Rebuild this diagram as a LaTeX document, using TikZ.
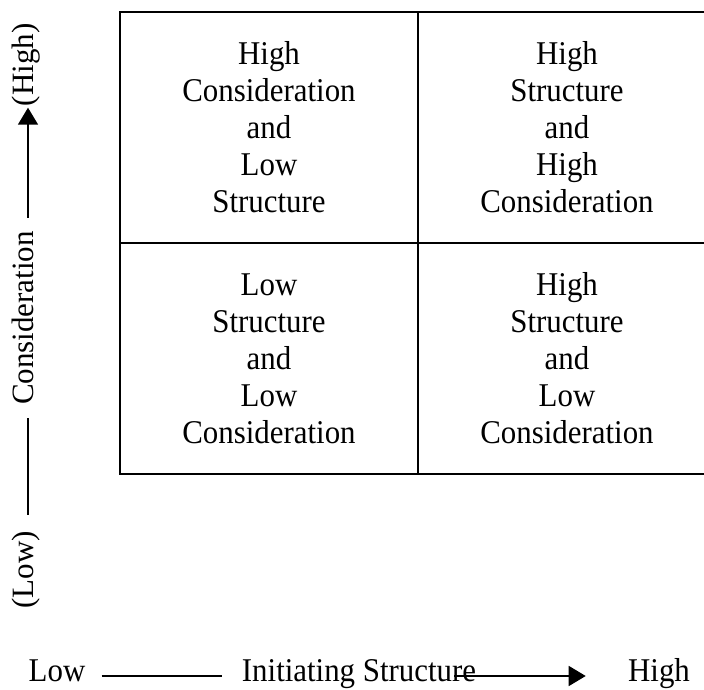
\documentclass[tikz,border=0pt]{standalone}
\usepackage{fontspec}
\setmainfont{Liberation Serif}
\newfontfamily\tallfont[FakeStretch=0.93]{Liberation Serif}
\usetikzlibrary{arrows.meta}
\begin{document}
\begin{tikzpicture}[x=0.5pt,y=-0.5pt,
  cell/.style={draw,line width=1pt,minimum width=149pt,minimum height=115.5pt,align=center,font=\tallfont\fontsize{16.6}{18.5}\selectfont},
  axislabel/.style={inner sep=0pt,text height=0.72em,text depth=0.22em,font=\fontsize{15.5}{18.5}\selectfont},
  xlabel/.style={axislabel,font=\tallfont\fontsize{16.6}{18.5}\selectfont},
  axisline/.style={line width=0.75pt},
  tip/.style={-{Triangle[length=8.5pt,width=10pt]}}]
\path[use as bounding box,clip] (0,0) rectangle (704,689);

\node[cell] (hcls) at (269,127.5) {High\\Consideration\\and\\Low\\Structure};
\node[cell] (hshc) at (567,127.5) {High\\Structure\\and\\High\\Consideration};
\node[cell] (lslc) at (269,358.5) {Low\\Structure\\and\\Low\\Consideration};
\node[cell] (hslc) at (567,358.5) {High\\Structure\\and\\Low\\Consideration};

\node[axislabel,rotate=90] (yhigh) at (28,65) {(High)};
\node[axislabel,rotate=90] (cons) at (28,318) {Consideration};
\node[axislabel,rotate=90] (ylow) at (28,570) {(Low)};

\node[xlabel] (xlow) at (57,676) {Low};
\node[xlabel] (init) at (359,676) {Initiating Structure};
\node[xlabel] (xhigh) at (659,676) {High};

\path[draw,axisline,tip,shorten <=6.5pt,shorten >=0.5pt] (cons) -- (yhigh);
\path[draw,axisline,shorten <=6.5pt,shorten >=8pt] (cons) -- (ylow);
\path[draw,axisline,shorten <=8pt,shorten >=10pt] (xlow) -- (init);
\path[draw,axisline,tip,shorten <=-11pt,shorten >=21pt] (init) -- (xhigh);
\end{tikzpicture}
\end{document}
